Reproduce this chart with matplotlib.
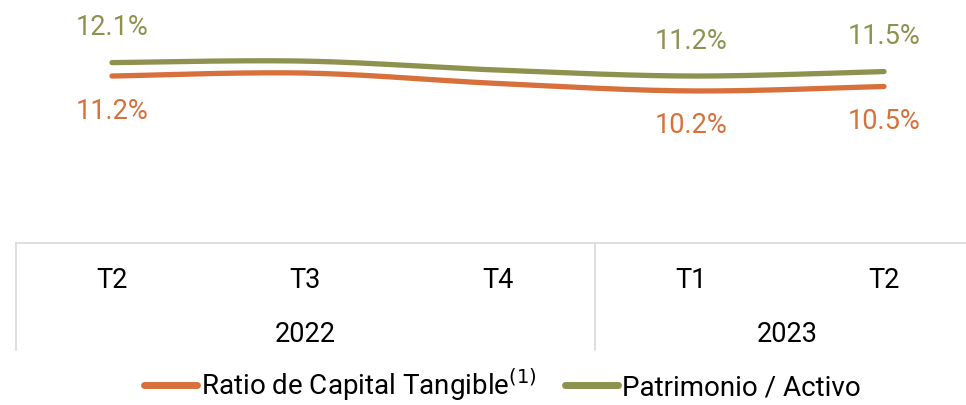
import numpy as np
from matplotlib import pyplot as plt
from matplotlib.lines import Line2D

quarters = ["T2", "T3", "T4", "T1", "T2"]
years = ["2022", "2023"]
year_spans = [(0, 3), (3, 5)]  # category index ranges per year
ratio_capital = [11.2, 11.4, 10.7, 10.2, 10.5]
patrimonio_activo = [12.1, 12.2, 11.6, 11.2, 11.5]
labeled_idx = [0, 3, 4]

ORANGE = "#d8703c"
GREEN = "#8d924f"
GRID = "#d9d9d9"

plt.rcParams["font.family"] = ["Roboto", "DejaVu Sans"]


def smooth(x, y, n=40):
  """Catmull-Rom curve through the points (like a smoothed line)."""
  x = np.asarray(x, float)
  y = np.asarray(y, float)
  px = np.r_[x[0], x, x[-1]]
  py = np.r_[y[0], y, y[-1]]
  xs, ys = [], []
  t = np.linspace(0, 1, n)
  for i in range(1, len(px) - 2):
    p0, p1, p2, p3 = (np.array([px[k], py[k]]) for k in (i - 1, i, i + 1, i + 2))
    c1 = p1 + (p2 - p0) / 6
    c2 = p2 - (p3 - p1) / 6
    pts = (
      np.outer((1 - t) ** 3, p1)
      + np.outer(3 * (1 - t) ** 2 * t, c1)
      + np.outer(3 * (1 - t) * t**2, c2)
      + np.outer(t**3, p2)
    )
    xs.append(pts[:, 0])
    ys.append(pts[:, 1])
  return np.concatenate(xs), np.concatenate(ys)


fig = plt.figure(figsize=(9.66, 4.05), dpi=100)
ax = fig.add_axes([15.5 / 966, 0.4, 965 / 966, 0.6])

x = np.arange(len(quarters))
for vals, color, off in (
  (ratio_capital, ORANGE, -35),
  (patrimonio_activo, GREEN, 35),
):
  sx, sy = smooth(x, vals)
  ax.plot(sx, sy, color=color, lw=3.8, solid_capstyle="round", clip_on=False)
  for i in labeled_idx:
    ax.annotate(
      f"{vals[i]:.1f}%",
      (x[i], vals[i]),
      xytext=(0, off),
      textcoords="offset pixels",
      ha="center",
      va="center",
      color=color,
      fontsize=19.5,
    )

ax.set_xlim(-0.5, len(quarters) - 0.5)
ax.set_ylim(0, 16.3)
ax.axis("off")

# category axis drawn as a table below the plot
line_kw = dict(color=GRID, lw=1.2, clip_on=False)
ax.plot([-0.5, len(quarters) - 0.5], [0, 0], **line_kw)
trans = ax.get_xaxis_transform()
for start, _ in year_spans:
  ax.plot([start - 0.5, start - 0.5], [0, -0.44], transform=trans, **line_kw)
for i, q in enumerate(quarters):
  ax.text(i, -0.155, q, transform=trans, ha="center", va="center", fontsize=19.5)
for (start, end), yr in zip(year_spans, years):
  ax.text((start + end - 1) / 2, -0.375, yr, transform=trans, ha="center",
          va="center", fontsize=19.5)

handles = [
  Line2D([], [], color=ORANGE, lw=5, solid_capstyle="round"),
  Line2D([], [], color=GREEN, lw=5, solid_capstyle="round"),
]
fig.legend(
  handles,
  [r"Ratio de Capital Tangible$^{(1)}$", "Patrimonio / Activo"],
  loc="center",
  bbox_to_anchor=(0.52, 0.05),
  ncol=2,
  frameon=False,
  fontsize=20,
  handlelength=1.9,
  handletextpad=0.15,
  columnspacing=1.0,
)

fig.savefig("out.png", dpi=100)
